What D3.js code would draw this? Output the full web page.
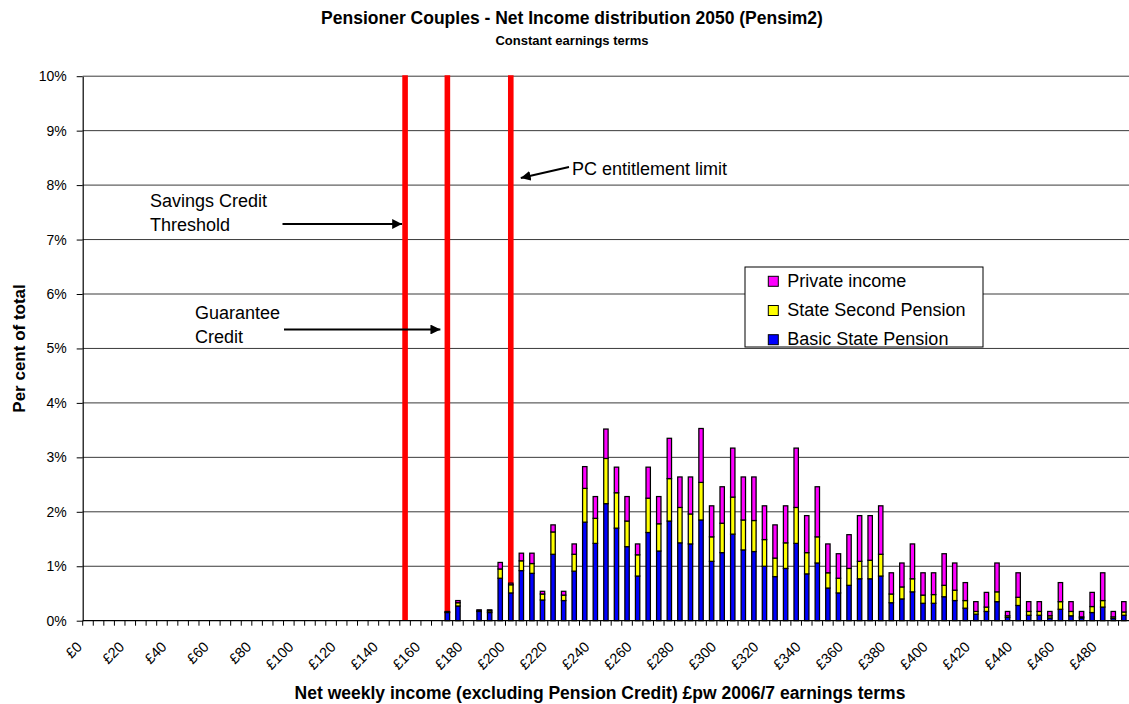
<!DOCTYPE html>
<html>
<head>
<meta charset="utf-8">
<script src="https://cdn.jsdelivr.net/npm/d3@7"></script>
<style>
  body { margin: 0; background: #fff; }
  svg { display: block; }
  text { font-family: "Liberation Sans", Arial, Helvetica, sans-serif; fill: #000; }
</style>
</head>
<body>
<svg id="chart" width="1129" height="704"></svg>
<script>
// Net weekly income bands (£pw, lower bound of each £5 band)
const incomeBands = [
  0, 5, 10, 15, 20, 25, 30, 35, 40, 45, 50, 55, 60, 65, 70, 75, 80, 85, 90, 95,
  100, 105, 110, 115, 120, 125, 130, 135, 140, 145, 150, 155, 160, 165, 170, 175, 180, 185, 190, 195,
  200, 205, 210, 215, 220, 225, 230, 235, 240, 245, 250, 255, 260, 265, 270, 275, 280, 285, 290, 295,
  300, 305, 310, 315, 320, 325, 330, 335, 340, 345, 350, 355, 360, 365, 370, 375, 380, 385, 390, 395,
  400, 405, 410, 415, 420, 425, 430, 435, 440, 445, 450, 455, 460, 465, 470, 475, 480, 485, 490
];

// Per cent of pensioner couples in each band, by income source
const basicStatePension = [
  0, 0, 0, 0, 0, 0, 0, 0, 0, 0, 0, 0, 0, 0, 0, 0, 0, 0, 0, 0,
  0, 0, 0, 0, 0, 0, 0, 0, 0, 0, 0, 0, 0, 0, 0.15, 0.27, 0, 0.17, 0.15, 0.78,
  0.51, 0.92, 0.87, 0.38, 1.22, 0.37, 0.91, 1.81, 1.42, 2.15, 1.70, 1.36, 0.82, 1.62, 1.28, 1.83, 1.43, 1.41, 1.85, 1.09,
  1.25, 1.59, 1.30, 1.27, 1.00, 0.81, 0.96, 1.42, 0.86, 1.06, 0.60, 0.51, 0.65, 0.77, 0.77, 0.82, 0.33, 0.40, 0.53, 0.32,
  0.32, 0.44, 0.37, 0.23, 0.12, 0.17, 0.35, 0.06, 0.28, 0.10, 0.10, 0.05, 0.21, 0.09, 0.05, 0.15, 0.25, 0.04, 0.10
];
const stateSecondPension = [
  0, 0, 0, 0, 0, 0, 0, 0, 0, 0, 0, 0, 0, 0, 0, 0, 0, 0, 0, 0,
  0, 0, 0, 0, 0, 0, 0, 0, 0, 0, 0, 0, 0, 0, 0.01, 0.06, 0, 0.01, 0.03, 0.17,
  0.15, 0.18, 0.18, 0.11, 0.41, 0.10, 0.31, 0.62, 0.46, 0.83, 0.65, 0.47, 0.39, 0.63, 0.50, 0.78, 0.65, 0.55, 0.69, 0.45,
  0.54, 0.68, 0.55, 0.57, 0.49, 0.34, 0.47, 0.66, 0.39, 0.48, 0.28, 0.27, 0.31, 0.32, 0.34, 0.40, 0.16, 0.22, 0.24, 0.15,
  0.16, 0.21, 0.19, 0.14, 0.05, 0.08, 0.18, 0.03, 0.15, 0.07, 0.07, 0.04, 0.14, 0.08, 0.02, 0.11, 0.12, 0.03, 0.06
];
const privateIncome = [
  0, 0, 0, 0, 0, 0, 0, 0, 0, 0, 0, 0, 0, 0, 0, 0, 0, 0, 0, 0,
  0, 0, 0, 0, 0, 0, 0, 0, 0, 0, 0, 0, 0, 0, 0.01, 0.04, 0, 0.02, 0.02, 0.12,
  0.03, 0.14, 0.19, 0.05, 0.13, 0.07, 0.19, 0.40, 0.40, 0.54, 0.47, 0.45, 0.20, 0.57, 0.50, 0.74, 0.56, 0.68, 0.99, 0.57,
  0.67, 0.90, 0.79, 0.80, 0.62, 0.61, 0.68, 1.09, 0.68, 0.92, 0.53, 0.45, 0.62, 0.84, 0.82, 0.89, 0.39, 0.44, 0.64, 0.41,
  0.40, 0.58, 0.50, 0.33, 0.18, 0.27, 0.53, 0.08, 0.45, 0.18, 0.18, 0.08, 0.35, 0.18, 0.10, 0.26, 0.51, 0.10, 0.19
];

const seriesNames = ["Basic State Pension", "State Second Pension", "Private income"];
const seriesColors = ["#0000ff", "#ffff00", "#ff00ff"];

// Policy thresholds (£pw) marked with vertical red lines
const thresholdBands = [150, 170, 200];

const yTicks = [0, 1, 2, 3, 4, 5, 6, 7, 8, 9, 10];
const xLabelEvery = 4;

// ---- layout ----
const plotLeft = 82.7, plotTop = 76.2, plotBottom = 620.7, bandStep = 10.57;

const svg = d3.select("#chart");

const x = d3.scaleBand()
  .domain(incomeBands)
  .range([plotLeft, plotLeft + bandStep * incomeBands.length])
  .padding(0);
const y = d3.scaleLinear().domain([0, 10]).range([plotBottom, plotTop]);
const step = x.step();
const barW = 4.4;

const rows = incomeBands.map((b, i) => ({
  band: b,
  "Basic State Pension": basicStatePension[i],
  "State Second Pension": stateSecondPension[i],
  "Private income": privateIncome[i]
}));
const stacked = d3.stack().keys(seriesNames)(rows);

// ---- titles ----
svg.append("text")
  .attr("x", 572).attr("y", 24)
  .attr("text-anchor", "middle")
  .style("font-size", "17.5px").style("font-weight", "bold")
  .text("Pensioner Couples - Net Income distribution 2050 (Pensim2)");
svg.append("text")
  .attr("x", 572).attr("y", 45)
  .attr("text-anchor", "middle")
  .style("font-size", "13px").style("font-weight", "bold")
  .text("Constant earnings terms");

// ---- gridlines ----
svg.append("g")
  .selectAll("line")
  .data(yTicks.filter(d => d > 0))
  .join("line")
  .attr("x1", plotLeft).attr("x2", 1129)
  .attr("y1", d => y(d)).attr("y2", d => y(d))
  .attr("stroke", "#3a3a3a").attr("stroke-width", 1);

// ---- threshold lines (behind bars) ----
svg.append("g")
  .selectAll("line")
  .data(thresholdBands)
  .join("line")
  .attr("x1", d => x(d) + step / 2).attr("x2", d => x(d) + step / 2)
  .attr("y1", y(10) - 1).attr("y2", y(0))
  .attr("stroke", "#ff0000").attr("stroke-width", 5.6);

// ---- stacked bars ----
svg.append("g")
  .selectAll("g")
  .data(stacked)
  .join("g")
  .attr("fill", (d, i) => seriesColors[i])
  .selectAll("rect")
  .data(d => d.filter(s => s[1] - s[0] > 0))
  .join("rect")
  .attr("x", d => x(d.data.band) + (step - barW) / 2)
  .attr("y", d => y(d[1]))
  .attr("width", barW)
  .attr("height", d => y(d[0]) - y(d[1]))
  .attr("stroke", "#000")
  .attr("stroke-width", 1.25);

// ---- y axis ----
const yAxis = svg.append("g")
  .attr("transform", `translate(${plotLeft},0)`)
  .call(d3.axisLeft(y).tickValues(yTicks).tickFormat(d => d + "%").tickSize(6).tickSizeOuter(0).tickPadding(10));
yAxis.select(".domain").attr("stroke", "#000").attr("stroke-width", 1.2);
yAxis.selectAll(".tick line").attr("stroke", "#000");
yAxis.selectAll(".tick text").style("font-size", "14px").style("font-family", '"Liberation Sans", Arial, sans-serif');

// ---- x axis ----
const xAxis = svg.append("g").attr("transform", `translate(0,${plotBottom})`);
xAxis.append("line")
  .attr("x1", plotLeft).attr("x2", 1129)
  .attr("y1", 0).attr("y2", 0)
  .attr("stroke", "#000").attr("stroke-width", 1.2);
xAxis.selectAll("line.tick")
  .data(incomeBands)
  .join("line")
  .attr("class", "tick")
  .attr("x1", d => x(d)).attr("x2", d => x(d))
  .attr("y1", 0).attr("y2", 5)
  .attr("stroke", "#000");
xAxis.selectAll("text.lbl")
  .data(incomeBands.filter((d, i) => i % xLabelEvery === 0))
  .join("text")
  .attr("class", "lbl")
  .attr("text-anchor", "end")
  .attr("transform", d => `translate(${x(d) + step / 2 - 5},${27}) rotate(-45)`)
  .style("font-size", "14.5px")
  .text(d => "£" + d);

// ---- axis titles ----
svg.append("text")
  .attr("transform", `translate(25,${(plotTop + plotBottom) / 2}) rotate(-90)`)
  .attr("text-anchor", "middle")
  .style("font-size", "17px").style("font-weight", "bold")
  .text("Per cent of total");
svg.append("text")
  .attr("x", 600).attr("y", 699)
  .attr("text-anchor", "middle")
  .style("font-size", "17.5px").style("font-weight", "bold")
  .text("Net weekly income (excluding Pension Credit) £pw 2006/7 earnings terms");

// ---- annotations ----
const defs = svg.append("defs");
defs.append("marker")
  .attr("id", "arrowhead")
  .attr("viewBox", "0 0 10 10")
  .attr("refX", 10).attr("refY", 5)
  .attr("markerWidth", 5.5).attr("markerHeight", 5.5)
  .attr("markerUnits", "strokeWidth")
  .attr("orient", "auto")
  .append("path").attr("d", "M0,0 L10,5 L0,10 z").attr("fill", "#000");

const noteFont = "18px";
function noteLines(x0, yFirst, lines, lh) {
  const t = svg.append("text").attr("x", x0).attr("y", yFirst).style("font-size", noteFont);
  lines.forEach((s, i) => t.append("tspan").attr("x", x0).attr("y", yFirst + i * lh).text(s));
}
function arrow(x1, y1, x2, y2) {
  svg.append("line")
    .attr("x1", x1).attr("y1", y1).attr("x2", x2).attr("y2", y2)
    .attr("stroke", "#000").attr("stroke-width", 1.8)
    .attr("marker-end", "url(#arrowhead)");
}

const lineX = d => x(d) + step / 2;

noteLines(150, 206.5, ["Savings Credit", "Threshold"], 24);
arrow(282.5, 224, lineX(thresholdBands[0]) - 3, 224);

noteLines(195, 319, ["Guarantee", "Credit"], 23.7);
arrow(284, 329.5, lineX(thresholdBands[1]) - 7, 329.5);

noteLines(572, 175, ["PC entitlement limit"], 24);
arrow(569, 167, lineX(thresholdBands[2]) + 10, 178);

// ---- legend ----
const legend = svg.append("g").attr("transform", "translate(745,267)");
legend.append("rect")
  .attr("width", 238).attr("height", 80)
  .attr("fill", "#fff").attr("stroke", "#000").attr("stroke-width", 1);
const legendOrder = [2, 1, 0];
legendOrder.forEach((k, i) => {
  const cy = 14.3 + i * 29.2;
  legend.append("rect")
    .attr("x", 23.3).attr("y", cy - 5).attr("width", 10).attr("height", 10)
    .attr("fill", seriesColors[k]).attr("stroke", "#000").attr("stroke-width", 1);
  legend.append("text")
    .attr("x", 42.3).attr("y", cy + 5.6)
    .style("font-size", "18px")
    .text(seriesNames[k]);
});
</script>
</body>
</html>
